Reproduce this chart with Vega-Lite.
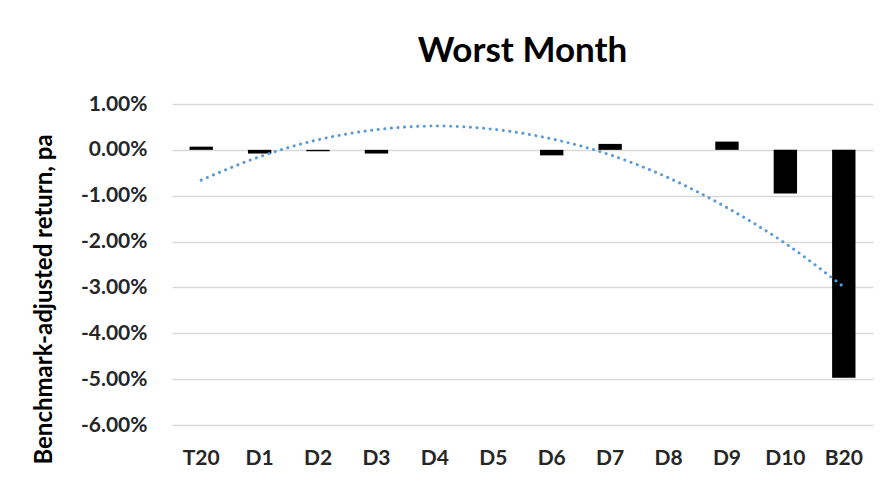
{
  "$schema": "https://vega.github.io/schema/vega-lite/v6.json",
  "width": 701,
  "height": 321,
  "autosize": {"type": "none"},
  "padding": {"left": 172, "top": 104, "right": 18, "bottom": 59},
  "background": "white",
  "title": {
    "text": "Worst Month",
    "font": "Lato",
    "fontSize": 35,
    "fontWeight": "bold",
    "color": "#000000",
    "offset": 24
  },
  "data": {
    "values": [
      {"group": "T20", "ret": 0.0007, "trend": -0.0066},
      {"group": "D1", "ret": -0.0008, "trend": -0.0015},
      {"group": "D2", "ret": -0.0003, "trend": 0.0022},
      {"group": "D3", "ret": -0.0008, "trend": 0.0044},
      {"group": "D4", "ret": 0, "trend": 0.0052},
      {"group": "D5", "ret": 0, "trend": 0.0045},
      {"group": "D6", "ret": -0.0012, "trend": 0.0024},
      {"group": "D7", "ret": 0.0013, "trend": -0.0011},
      {"group": "D8", "ret": 0, "trend": -0.0061},
      {"group": "D9", "ret": 0.0018, "trend": -0.0126},
      {"group": "D10", "ret": -0.0095, "trend": -0.0204},
      {"group": "B20", "ret": -0.0497, "trend": -0.0299}
    ]
  },
  "encoding": {
    "x": {
      "field": "group",
      "type": "nominal",
      "sort": null,
      "scale": {"paddingInner": 0.6, "paddingOuter": 0.3},
      "axis": {
        "title": null,
        "labelAngle": 0,
        "domain": false,
        "ticks": false,
        "labelFont": "Lato",
        "labelFontSize": 21,
        "labelFontWeight": "bold",
        "labelColor": "#262626",
        "labelPadding": 22
      }
    }
  },
  "layer": [
    {
      "mark": {"type": "bar", "color": "#000000"},
      "encoding": {
        "y": {
          "field": "ret",
          "type": "quantitative",
          "scale": {"domain": [-0.06, 0.01], "nice": false},
          "axis": {
            "title": "Benchmark-adjusted return, pa",
            "format": ".2%",
            "labelExpr": "replace(datum.label, '−', '-')",
            "values": [0.01, 0, -0.01, -0.02, -0.03, -0.04, -0.05, -0.06],
            "domain": false,
            "ticks": false,
            "grid": true,
            "gridColor": "#d9d9d9",
            "gridWidth": 1.5,
            "labelFont": "Lato",
            "labelFontSize": 21,
            "labelFontWeight": "bold",
            "labelColor": "#262626",
            "labelPadding": 25,
            "titleFont": "Lato",
            "titleFontSize": 24,
            "titleFontWeight": "bold",
            "titleColor": "#000000",
            "titlePadding": 24,
            "titleY": 195
          }
        }
      }
    },
    {
      "mark": {
        "type": "line",
        "color": "#5B9BD5",
        "strokeWidth": 3,
        "strokeDash": [0.1, 6.5],
        "strokeCap": "round",
        "interpolate": "monotone"
      },
      "encoding": {
        "y": {"field": "trend", "type": "quantitative"}
      }
    }
  ],
  "config": {
    "view": {"stroke": null}
  }
}
